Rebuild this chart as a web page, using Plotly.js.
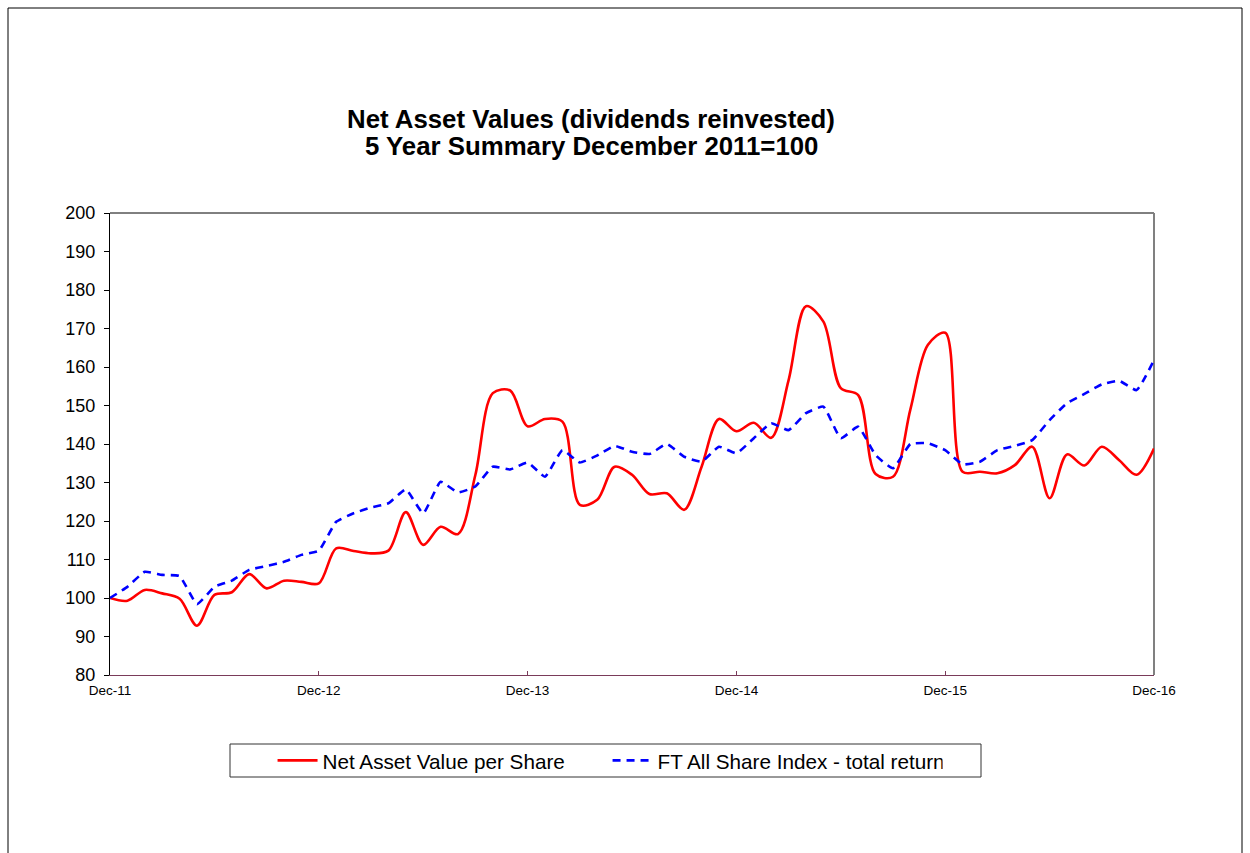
<!DOCTYPE html>
<html>
<head>
<meta charset="utf-8">
<script src="https://cdn.plot.ly/plotly-3.0.1.min.js"></script>
<style>
  html, body { margin: 0; padding: 0; background: #ffffff; }
  #chart { width: 1250px; height: 853px; }
</style>
</head>
<body>
<div id="chart"></div>
<script>
// Monthly categories, Dec-11 .. Dec-16
const months = [
  "Dec-11","Jan-12","Feb-12","Mar-12","Apr-12","May-12","Jun-12","Jul-12","Aug-12","Sep-12","Oct-12","Nov-12",
  "Dec-12","Jan-13","Feb-13","Mar-13","Apr-13","May-13","Jun-13","Jul-13","Aug-13","Sep-13","Oct-13","Nov-13",
  "Dec-13","Jan-14","Feb-14","Mar-14","Apr-14","May-14","Jun-14","Jul-14","Aug-14","Sep-14","Oct-14","Nov-14",
  "Dec-14","Jan-15","Feb-15","Mar-15","Apr-15","May-15","Jun-15","Jul-15","Aug-15","Sep-15","Oct-15","Nov-15",
  "Dec-15","Jan-16","Feb-16","Mar-16","Apr-16","May-16","Jun-16","Jul-16","Aug-16","Sep-16","Oct-16","Nov-16",
  "Dec-16"
];
const tickLabels = ["Dec-11","Dec-12","Dec-13","Dec-14","Dec-15","Dec-16"];

// Net Asset Value per Share (Dec 2011 = 100)
const navValues = [
  100, 99.3, 102.1, 101.2, 99.8, 92.8, 100.8, 101.5, 106.2, 102.5, 104.5, 104.2,
  103.8, 112.9, 112.2, 111.6, 112.3, 122.3, 113.8, 118.5, 116.6, 132, 153.2, 153.9,
  144.6, 146.5, 145.8, 124.2, 125.5, 134.1, 132, 127, 127.2, 122.9, 134.1, 146.5,
  143.3, 145.5, 141.6, 156.6, 175.8, 171.8, 154.5, 152.7, 132.2, 131.5, 149, 165.7,
  168.9, 132.8, 132.8, 132.4, 134.5, 139.3, 125.9, 137.3, 134.4, 139.3, 135.8, 132,
  138.8
];

// FT All Share Index - total return (Dec 2011 = 100)
const ftseValues = [
  100, 102.9, 106.8, 106, 105.7, 98.4, 102.9, 104.5, 107.3, 108.3, 109.4, 111.2,
  112.3, 119.8, 122, 123.5, 124.6, 128.2, 122, 130.2, 127.4, 129, 134.1, 133.4,
  135.2, 131.5, 138.4, 135.2, 137, 139.5, 138, 137.4, 140, 136.7, 135.4, 139.3,
  137.6, 141.5, 145.4, 143.6, 148, 149.7, 141.5, 144.5, 137.1, 133.7, 140, 140.2,
  138.4, 134.7, 135.4, 138.4, 139.5, 141, 146.2, 150.6, 153, 155.5, 156.4, 154,
  161.8
];

const FONT = "Liberation Sans, Arial, Helvetica, sans-serif";

const traces = [
  {
    x: months, y: navValues, type: "scatter", mode: "lines",
    name: "Net Asset Value per Share",
    line: { color: "#ff0000", width: 2.6, shape: "spline", smoothing: 0.9 },
    hoverinfo: "skip"
  },
  {
    x: months, y: ftseValues, type: "scatter", mode: "lines",
    name: "FT All Share Index - total return",
    line: { color: "#0000ff", width: 2.6, dash: "8px,6px", shape: "spline", smoothing: 0.4 },
    hoverinfo: "skip"
  }
];

const layout = {
  width: 1250, height: 853,
  margin: { l: 110, r: 96, t: 213, b: 178, pad: 0 },
  paper_bgcolor: "#ffffff", plot_bgcolor: "#ffffff",
  font: { family: FONT, color: "#000000" },
  showlegend: true,
  legend: {
    orientation: "h", x: 0.1557, xanchor: "left", y: -0.185, yanchor: "middle",
    bgcolor: "rgba(0,0,0,0)", borderwidth: 0,
    font: { family: FONT, size: 20.7, color: "#000000" },
    entrywidth: 280, entrywidthmode: "pixels", tracegroupgap: 0, itemwidth: 40
  },
  xaxis: {
    type: "category", categoryorder: "array", categoryarray: months,
    range: [0, 60], tickmode: "array", tickvals: tickLabels, ticktext: tickLabels,
    ticks: "inside", ticklen: 4, tickcolor: "#7a3b5a", tickwidth: 1,
    showline: true, linecolor: "#7a3b5a", linewidth: 1, mirror: false,
    showgrid: false, zeroline: false, ticklabelstandoff: 3,
    tickfont: { family: FONT, size: 13.5, color: "#000000" }, fixedrange: true
  },
  yaxis: {
    range: [80, 200], tickmode: "linear", tick0: 80, dtick: 10,
    ticks: "outside", ticklen: 5, tickcolor: "#000000", tickwidth: 1,
    showline: true, linecolor: "#000000", linewidth: 1, mirror: false,
    showgrid: false, zeroline: false, ticklabelstandoff: 5,
    tickfont: { family: FONT, size: 18, color: "#000000" }, fixedrange: true
  },
  shapes: [
    // outer chart frame
    { type: "rect", xref: "paper", yref: "paper",
      x0: (8 - 110) / 1044, x1: (1242 - 110) / 1044,
      y0: (675 - 870) / 462, y1: (675 - 8) / 462,
      line: { color: "#000000", width: 1 }, fillcolor: "rgba(0,0,0,0)", layer: "below" },
    // plot area top edge
    { type: "line", xref: "paper", yref: "paper", x0: 0, x1: 1, y0: 1, y1: 1,
      line: { color: "#000000", width: 1 }, layer: "below" },
    // plot area right edge
    { type: "line", xref: "paper", yref: "paper", x0: 1, x1: 1, y0: 0, y1: 1,
      line: { color: "#808080", width: 2 }, layer: "below" },
    // legend box
    { type: "rect", xref: "paper", yref: "paper",
      x0: (230 - 110) / 1044, x1: (981 - 110) / 1044,
      y0: (675 - 777) / 462, y1: (675 - 744) / 462,
      line: { color: "#333333", width: 1 }, fillcolor: "rgba(0,0,0,0)", layer: "below" }
  ],
  annotations: [
    { text: "<b>Net Asset Values (dividends reinvested)</b>", xref: "paper", yref: "paper",
      x: (591 - 110) / 1044, y: (675 - 119) / 462, xanchor: "center", yanchor: "middle",
      showarrow: false, font: { family: FONT, size: 25.8, color: "#000000" } },
    { text: "<b>5 Year Summary December 2011=100</b>", xref: "paper", yref: "paper",
      x: (591 - 110) / 1044, y: (675 - 146) / 462, xanchor: "center", yanchor: "middle",
      showarrow: false, font: { family: FONT, size: 25.8, color: "#000000" } }
  ]
};

Plotly.newPlot("chart", traces, layout, { staticPlot: true, displayModeBar: false });
</script>
</body>
</html>
